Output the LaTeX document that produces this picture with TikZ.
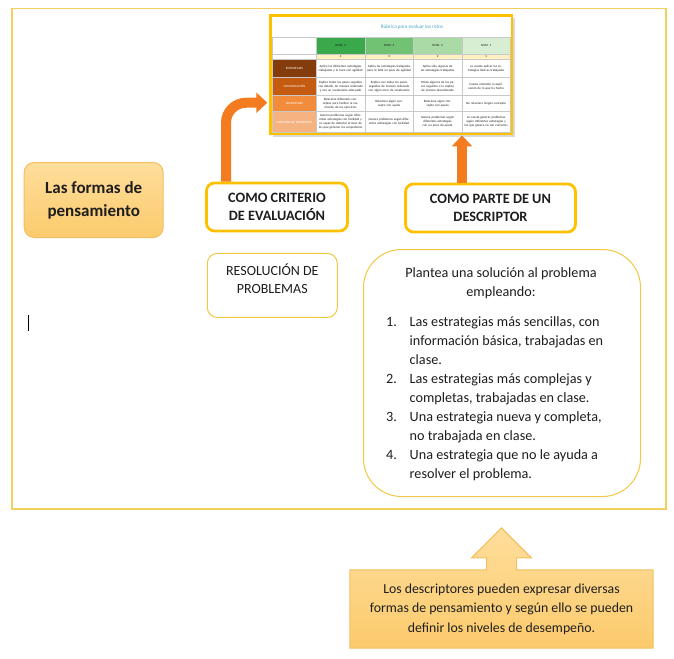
\documentclass[tikz,border=0pt]{standalone}
\usepackage{fontspec}
\setmainfont{Carlito}
\usetikzlibrary{matrix,arrows.meta,backgrounds,fit,shadows}

\definecolor{oro}{HTML}{FFC000}
\definecolor{orofino}{HTML}{F2C744}
\definecolor{marcoclaro}{HTML}{F2CF5E}
\definecolor{naranja}{HTML}{F47C20}
\definecolor{crematop}{HTML}{FFDE9C}
\definecolor{cremabase}{HTML}{FBCA6C}
\definecolor{cremaborde}{HTML}{F2C060}
\definecolor{texto}{HTML}{1E1E1E}
\definecolor{rejilla}{HTML}{C8C8C8}
\definecolor{titrub}{HTML}{4BA5C8}
\definecolor{niv4}{HTML}{3AA94B}
\definecolor{niv3}{HTML}{72C274}
\definecolor{niv2}{HTML}{AADAA5}
\definecolor{niv1}{HTML}{D7EED3}
\definecolor{puntos}{HTML}{FFF0C2}
\definecolor{fila1}{HTML}{843C0C}
\definecolor{fila2}{HTML}{C55A11}
\definecolor{fila3}{HTML}{F08C3C}
\definecolor{fila4}{HTML}{F6B382}

\begin{document}
\begin{tikzpicture}[x=1pt, y=-1pt,
        font=\fontsize{13}{19}\selectfont, text=texto,
        marco/.style={draw=marcoclaro, line width=1.2pt},
        caja/.style={draw=oro, line width=2.8pt, rounded corners=8pt, fill=white,
            align=center, inner sep=0pt, font=\bfseries\fontsize{14.3}{18.5}\selectfont},
        cajafina/.style={draw=orofino, line width=1pt, fill=white, inner sep=0pt},
        crema/.style={draw=cremaborde, line width=1pt, top color=crematop, bottom color=cremabase},
        flecha/.style={draw=naranja, line width=10pt, -{Triangle[length=11pt,width=20pt]}},
        rubrica/.style={
            matrix of nodes,
            inner sep=0pt,
            font=\fontsize{3.2}{3.9}\selectfont,
            nodes={draw=rejilla, line width=0.3pt, fill=white, inner sep=1pt, text width=46.5pt,
                anchor=center, align=center, font=\fontsize{3.2}{3.9}\selectfont},
            column sep=-0.3pt,
            row sep=-0.3pt,
            nodes in empty cells,
            column 1/.style={nodes={text width=42pt}},
            row 1/.style={nodes={minimum height=17pt}},
            row 2/.style={nodes={minimum height=5pt}},
            row 3/.style={nodes={minimum height=18pt}},
            row 4/.style={nodes={minimum height=18pt}},
            row 5/.style={nodes={minimum height=16pt}},
            row 6/.style={nodes={minimum height=21pt}},
            row 1 column 2/.style={nodes={fill=niv4}},
            row 1 column 3/.style={nodes={fill=niv3}},
            row 1 column 4/.style={nodes={fill=niv2}},
            row 1 column 5/.style={nodes={fill=niv1}},
            row 2 column 2/.style={nodes={fill=puntos}},
            row 2 column 3/.style={nodes={fill=puntos}},
            row 2 column 4/.style={nodes={fill=puntos}},
            row 2 column 5/.style={nodes={fill=puntos}},
            row 3 column 1/.style={nodes={fill=fila1, text=white}},
            row 4 column 1/.style={nodes={fill=fila2, text=white}},
            row 5 column 1/.style={nodes={fill=fila3, text=white}},
            row 6 column 1/.style={nodes={fill=fila4, text=white}}
        }]

    \useasboundingbox (0,0) rectangle (674,658);

    \draw[marco] (12,8.5) rectangle (666,509);

    % rubrica
    \matrix[rubrica, anchor=north west] (rub) at (272,37) {
        & NIVEL 4 & NIVEL 3 & NIVEL 2 & NIVEL 1 \\
        & 4 & 3 & 2 & 1 \\
        ESTRATEGIAS & Aplica las diferentes estrategias trabajadas y lo hace con agilidad & Aplica las estrategias trabajadas pero le falta un poco de agilidad & Aplica sólo algunas de las estrategias trabajadas & Le cuesta aplicar las estrategias básicas trabajadas \\
        COMUNICACIÓN & Explica todos los pasos seguidos con detalle, de manera ordenada y con un vocabulario adecuado & Explica casi todos los pasos seguidos de manera ordenada con algún error de vocabulario & Omite algunos de los pasos seguidos o la explica de manera desordenada & Cuesta entender la explicación de lo que ha hecho \\
        CONEXIONES & Relaciona diferentes conceptos para facilitar la resolución de los ejercicios & Relaciona algún concepto con ayuda & Relaciona algún concepto con ayuda & No relaciona ningún concepto \\
        CREACIÓN DE PROBLEMAS & Genera problemas según diferentes estrategias con facilidad y es capaz de detectar errores de los que generan los compañeros & Genera problemas según diferentes estrategias con facilidad & Genera problemas según diferentes estrategias con un poco de ayuda & Le cuesta generar problemas según diferentes estrategias y los que genera no son correctos \\
    };
    \node[minimum height=20pt, inner sep=0pt, text=titrub, font=\fontsize{5.2}{6}\selectfont] (titulo) at (412,27) {Rúbrica para evaluar los retos};

    \begin{scope}[on background layer]
        \node[draw=oro, line width=2.5pt, fill=white, inner sep=1.5pt, fit=(titulo)(rub),
            drop shadow={opacity=0.3, shadow xshift=2.5pt, shadow yshift=-2.5pt}] (rubrica) {};
    \end{scope}

    % cajas
    \node[crema, rounded corners=10pt, minimum width=139pt, minimum height=75pt, align=center, inner sep=0pt,
        font=\bfseries\fontsize{17}{23}\selectfont] (formas) at (93.7,200) {Las formas de\\pensamiento};

    \node[caja, minimum width=141pt, minimum height=48pt] (crit) at (277,207) {COMO CRITERIO\\DE EVALUACIÓN};
    \node[caja, minimum width=170pt, minimum height=48pt] (desc) at (490.5,208) {COMO PARTE DE UN\\DESCRIPTOR};

    \node[cajafina, rounded corners=10pt, minimum width=130pt, minimum height=64pt] (resol) at (272.3,285.4) {};
    \node[align=center, inner sep=0pt, font=\fontsize{14}{18}\selectfont] (resoltxt) at (272.3,279) {RESOLUCIÓN DE\\PROBLEMAS};

    \node[cajafina, rounded corners=38pt, minimum width=277pt, minimum height=247pt] (descr) at (502,373) {};
    \node[align=center, inner sep=0pt, font=\fontsize{14.2}{19}\selectfont] (descrtit) at (501,283.5) {Plantea una solución al problema\\empleando:};
    \node[anchor=west, inner sep=0pt, font=\fontsize{14.2}{19}\selectfont] (descrlista) at (386,398.5) {%
        \begin{tabular}{@{}p{23.5pt}@{}l@{}}
            1. & Las estrategias más sencillas, con\\
               & información básica, trabajadas en\\
               & clase.\\
            2. & Las estrategias más complejas y\\
               & completas, trabajadas en clase.\\
            3. & Una estrategia nueva y completa,\\
               & no trabajada en clase.\\
            4. & Una estrategia que no le ayuda a\\
               & resolver el problema.
        \end{tabular}};

    % flechas
    \draw[flecha, rounded corners=20pt] ([xshift=-51pt]crit.north) |- ([xshift=-2pt,yshift=-28pt]rubrica.west);
    \coordinate (pie) at ([xshift=-28.5pt]desc.north);
    \draw[flecha] (pie) -- (pie |- rubrica.south);

    % nota inferior
    \node[minimum width=303pt, minimum height=78pt, align=center, inner sep=0pt,
        font=\fontsize{13.8}{19.5}\selectfont] (nota) at (501.5,609) {Los descriptores pueden expresar diversas\\formas de pensamiento y según ello se pueden\\definir los niveles de desempeño.};
    \begin{scope}[on background layer]
        \path[crema] (nota.north west) -- ([xshift=-15pt]nota.north) -- ++(0,-12) -- ++(-15,0)
            -- ([yshift=42pt]nota.north) -- ([xshift=30pt,yshift=12pt]nota.north) -- ++(-15,0)
            -- ++(0,12) -- (nota.north east) -- (nota.south east) -- (nota.south west) -- cycle;
    \end{scope}

    \draw[line width=0.8pt, black] (28,315) -- (28,331);
\end{tikzpicture}
\end{document}
